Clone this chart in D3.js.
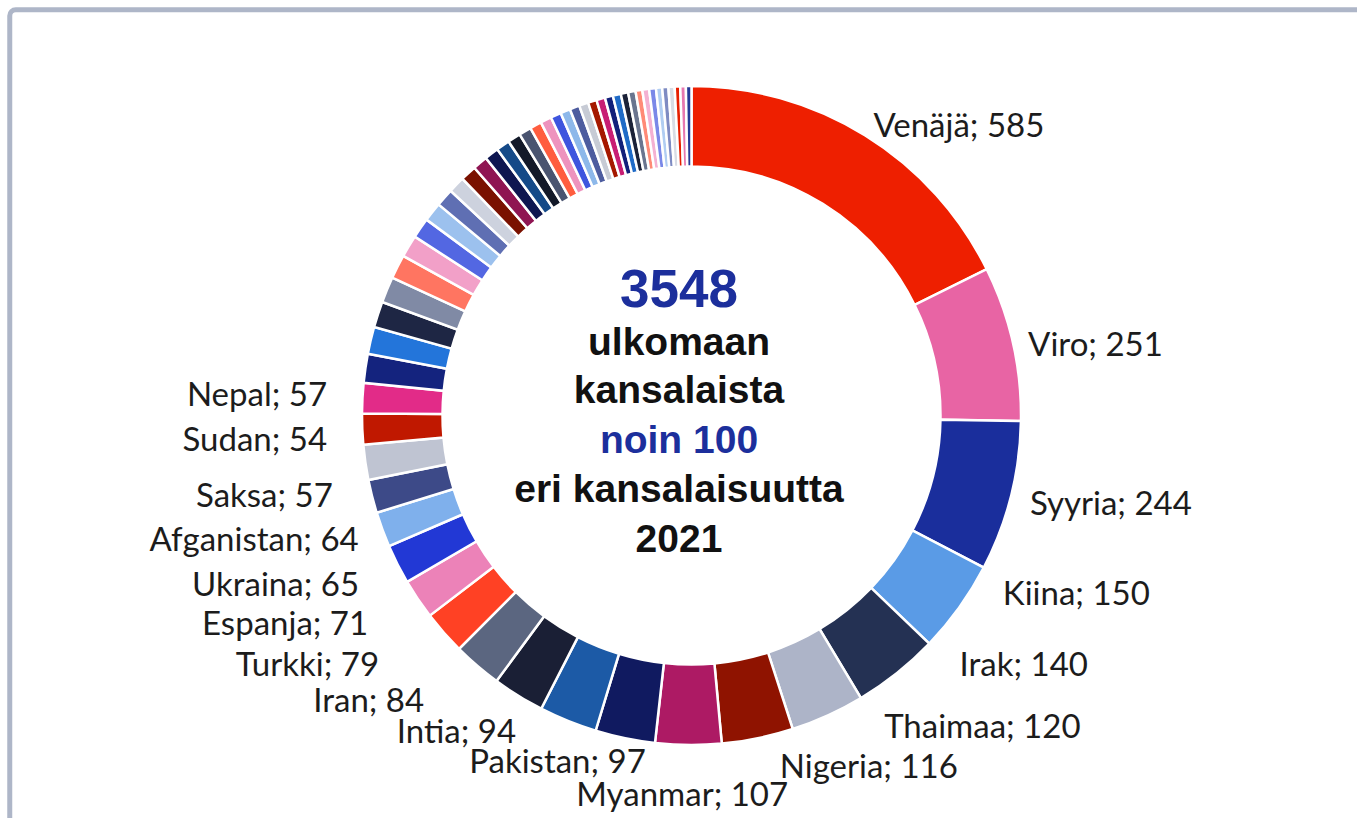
<!DOCTYPE html>
<html>
<head>
<meta charset="utf-8">
<script src="https://cdn.jsdelivr.net/npm/d3@7"></script>
<style>
  body { margin: 0; background: #fff; }
  svg { display: block; }
</style>
</head>
<body>
<div id="chart"></div>
<script>
// named slices (clockwise from 12 o'clock)
const names = ['Venäjä', 'Viro', 'Syyria', 'Kiina', 'Irak', 'Thaimaa', 'Nigeria', 'Myanmar',
  'Pakistan', 'Intia', 'Iran', 'Turkki', 'Espanja', 'Ukraina', 'Afganistan', 'Saksa', 'Sudan', 'Nepal'];
const namedValues = [585, 251, 244, 150, 140, 120, 116, 107, 97, 94, 84, 79, 71, 65, 64, 57, 54, 57];
// the small unlabeled citizenships that follow
const otherValues = [50, 49, 47, 44, 42, 42, 39, 36, 33, 31, 29, 27, 26, 24, 23, 22, 21, 20, 19, 18,
  17, 16, 16, 15, 14, 14, 13, 13, 12, 12, 11, 11, 11, 10, 10, 10, 9, 9, 9];

const sliceColors = [
  '#ee1f00', '#e864a4', '#1a2e9c', '#5a9be6', '#243153', '#adb4c8',
  '#8f1300', '#ad1a64', '#101a60', '#1c5aa6', '#1a1f35', '#5b6680',
  '#ff4124', '#ec82b8', '#2238d5', '#7fb0ec', '#3d4a88', '#bfc4d2',
  '#c01800', '#e22b88', '#14237e', '#2375da', '#1e2644', '#808aa5',
  '#ff7561', '#f2a0c8', '#5367e2', '#9cc1ee', '#5f6fb3', '#cdd2de',
  '#7a1100', '#8f1552', '#0e1650', '#154a88', '#131929', '#4a5470',
  '#ff5d3f', '#ee93be', '#3e55de', '#8db8ea', '#4d5c9f', '#c7cbd5',
  '#a51800', '#c81e74', '#12207a', '#1f6bc7', '#1b2238', '#6a758f',
  '#ff8a76', '#f4b1d2', '#7a88e8', '#b0cdf2', '#7e8bc2', '#d8dce5',
  '#e61e00', '#e878b0', '#253996'
];

const centerLines = ['3548', 'ulkomaan', 'kansalaista', 'noin 100', 'eri kansalaisuutta', '2021'];

// label layout: text anchor + nudge from the point at the label radius
const labelNudge = {
  'Venäjä': ['start', 0, 15], 'Viro': ['start', 0, 16], 'Syyria': ['start', 4, 15],
  'Kiina': ['start', 31, -12], 'Irak': ['start', 53, -9], 'Thaimaa': ['start', 50, 8],
  'Nigeria': ['start', 19, 25], 'Myanmar': ['middle', -6, 46], 'Pakistan': ['end', 24, 20],
  'Intia': ['end', -46, 8], 'Iran': ['end', -86, 3], 'Turkki': ['end', -88, -2],
  'Espanja': ['end', -64, -8], 'Ukraina': ['end', -46, -12], 'Afganistan': ['end', -25, -20],
  'Saksa': ['end', -35, -28], 'Sudan': ['end', -30, -49], 'Nepal': ['end', -23, -59]
};

const data = namedValues.map((v, i) => ({ name: names[i], value: v }))
  .concat(otherValues.map(v => ({ name: '', value: v })));

const width = 1357, height = 818;
const cx = 691.5, cy = 415.5;
const outerR = 329.5, innerR = 249, labelR = 345;

const svg = d3.select('#chart').append('svg')
  .attr('width', width)
  .attr('height', height);

// frame, runs off the right and bottom edges
svg.append('rect')
  .attr('x', 9.75).attr('y', 9.75)
  .attr('width', 1400).attr('height', 900)
  .attr('rx', 6)
  .attr('fill', 'none')
  .attr('stroke', '#aeb6c8')
  .attr('stroke-width', 5);

const pie = d3.pie().sort(null).value(d => d.value);
const arc = d3.arc().innerRadius(innerR).outerRadius(outerR);
const labelArc = d3.arc().innerRadius(labelR).outerRadius(labelR);

const g = svg.append('g').attr('transform', `translate(${cx},${cy})`);
const arcs = pie(data);

g.selectAll('path.slice')
  .data(arcs)
  .join('path')
  .attr('class', 'slice')
  .attr('d', arc)
  .attr('fill', (d, i) => sliceColors[i % sliceColors.length])
  .attr('stroke', '#fff')
  .attr('stroke-width', 2.5)
  .attr('stroke-linejoin', 'miter');

g.selectAll('text.label')
  .data(arcs.filter(d => d.data.name))
  .join('text')
  .attr('class', 'label')
  .each(function(d) {
    const p = labelArc.centroid(d);
    const n = labelNudge[d.data.name];
    d3.select(this)
      .attr('x', p[0] + n[1])
      .attr('y', p[1] + n[2])
      .attr('text-anchor', n[0]);
  })
  .style('font-family', 'Lato, "Open Sans", sans-serif')
  .style('font-size', '33px')
  .attr('fill', '#1c1c1c')
  .text(d => d.data.name + '; ' + d.data.value);

// text in the hole
const tx = cx - 12.5;
const center = svg.append('g').style('font-family', '"Liberation Sans", Arial, sans-serif')
  .style('font-weight', 'bold').attr('text-anchor', 'middle');
const lineY = [307, 355, 403, 453, 502, 552];
centerLines.forEach((t, i) => {
  center.append('text')
    .attr('x', tx)
    .attr('y', lineY[i])
    .style('font-size', i === 0 ? '53px' : '39px')
    .attr('fill', (i === 0 || i === 3) ? '#1c2f9c' : '#111')
    .text(t);
});
</script>
</body>
</html>
